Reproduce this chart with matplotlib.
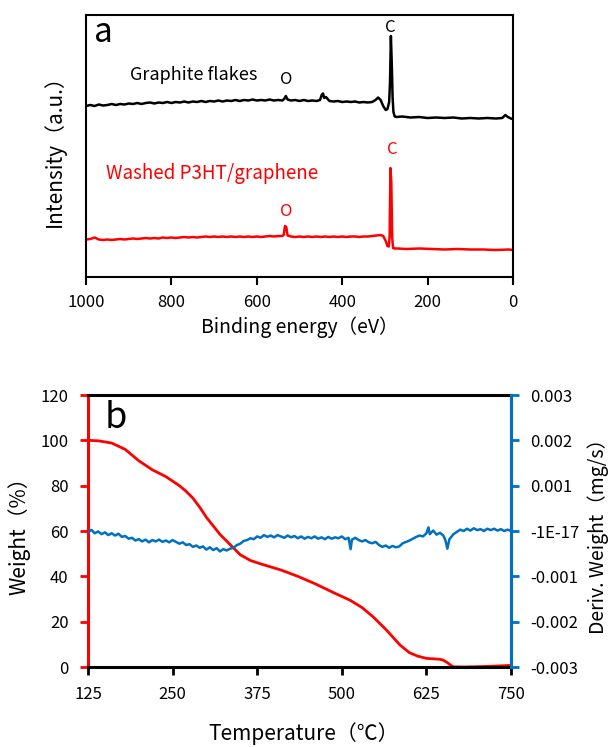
import numpy as np
import matplotlib
matplotlib.use("Agg")
import matplotlib.pyplot as plt
from matplotlib.ticker import FixedLocator, FixedFormatter

plt.rcParams['font.family'] = ['Noto Sans CJK JP', 'DejaVu Sans']

# --- panel a: XPS survey spectra (arbitrary intensity units) ---
be_black = [1000, 990, 980, 970, 960, 950, 940, 930, 920, 910, 900, 890, 880, 870, 860,
            850, 840, 830, 820, 810, 800, 790, 780, 770, 760, 750, 740, 730, 720, 710,
            700, 690, 680, 670, 660, 650, 640, 630, 620, 610, 600, 590, 580, 570, 560,
            550, 540, 536, 532, 528, 520, 510, 500, 490, 480, 470, 460, 452, 448, 445,
            442, 438, 430, 420, 410, 400, 390, 380, 370, 360, 350, 340, 330, 322, 316,
            310, 304, 298, 294, 290, 288, 286, 284, 282, 280, 277, 272, 260, 240, 220,
            200, 180, 160, 140, 120, 100, 80, 60, 40, 25, 18, 12, 5, 0]
int_black = [171, 172, 171, 172.5, 171.5, 172, 173, 172, 173, 172.5, 173.5, 173, 174, 173, 174,
             174.5, 173.5, 174.5, 174, 175, 174, 175, 174.5, 175.5, 174.5, 175.5, 175, 176, 175, 176,
             175.5, 176.5, 175.5, 176.5, 176, 177, 176, 177, 176.5, 177.5, 176.5, 177, 176.5, 177.5, 176.5,
             177, 176.5, 178, 181, 177.5, 176.5, 177, 176, 177, 176, 176.5, 176, 177, 182, 183.5,
             179, 180, 176, 175.5, 176, 175, 175.5, 175, 175.5, 174.5, 175, 174.5, 175, 177, 179.5,
             177, 171, 167, 168, 175, 195, 241, 215, 180, 165, 160.5, 160, 160.5, 159.5, 160,
             159, 159.5, 159, 159.5, 158.5, 159, 158.5, 159, 158.5, 159, 162, 160, 158.5, 158]

be_red = [1000, 990, 980, 975, 970, 960, 950, 940, 930, 920, 910, 900, 890, 880, 870,
          860, 850, 840, 830, 820, 810, 800, 790, 780, 770, 760, 750, 740, 730, 720,
          710, 700, 690, 680, 670, 660, 650, 640, 630, 620, 610, 600, 590, 580, 570,
          560, 550, 540, 537, 534, 531, 528, 520, 510, 500, 490, 480, 470, 460, 450,
          440, 430, 420, 410, 400, 390, 380, 370, 360, 350, 340, 330, 320, 310, 304,
          298, 294, 291, 289, 287, 285, 283, 281, 278, 270, 250, 220, 190, 160, 130,
          100, 70, 40, 10, 0]
int_red = [37.5, 38, 39.5, 38.5, 37.5, 37, 37.5, 37, 37.5, 38, 37.5, 38, 38.5, 38, 38.5,
           39, 38.5, 39, 38.5, 39.5, 39, 39.5, 39, 39.5, 40, 39.5, 40, 39.5, 40, 40.5,
           40, 40.5, 40, 40.5, 40, 40.5, 40, 40.5, 40, 40.5, 40, 40.5, 40, 40.5, 41,
           40.5, 41, 41, 42, 51, 50, 41.5, 40.5, 40, 40.5, 40, 40.5, 40, 40.5, 40,
           40.5, 40, 40.5, 40, 40.5, 40, 40.5, 40.5, 40, 40.5, 40.5, 41, 41.5, 42, 41,
           36, 31, 30.5, 40, 109, 95, 40, 29, 28.5, 28.5, 28, 28.5, 28, 27.5, 28,
           27.5, 27.5, 27, 27.5, 27]

# --- panel b: TGA ---
tga_temp = [125, 140, 160, 180, 200, 220, 240, 260, 270, 280, 290, 300, 320, 340, 350,
            365, 380, 410, 435, 460, 490, 512, 530, 546, 566, 586, 600, 612, 625, 636,
            645, 650, 656, 664, 680, 710, 750]
tga_weight = [100, 99.8, 98.8, 96, 91, 87, 84, 80, 77.5, 74.5, 70.5, 66, 58.5, 52.5, 49.5,
              47, 45.5, 42.8, 40, 36.8, 32.5, 29.5, 26.2, 22.2, 16.3, 9.7, 6.3, 4.8, 3.8, 3.6,
              3.4, 3.0, 1.9, 0.1, 0, 0.2, 0.7]

dtg_temp = [125, 130, 135, 140, 145, 150, 155, 160, 165, 170, 175, 180, 185, 190, 195,
            200, 205, 210, 215, 220, 225, 230, 235, 240, 245, 250, 255, 260, 265, 270,
            275, 280, 285, 290, 295, 300, 305, 310, 315, 320, 325, 330, 335, 340, 345,
            350, 355, 360, 365, 370, 375, 380, 385, 390, 395, 400, 405, 410, 415, 420,
            425, 430, 435, 440, 445, 450, 455, 460, 465, 470, 475, 480, 485, 490, 495,
            500, 505, 510, 513, 515, 520, 525, 530, 535, 540, 545, 550, 555, 560, 565,
            570, 575, 580, 585, 590, 595, 600, 605, 610, 615, 620, 625, 628, 630, 635,
            640, 645, 650, 653, 656, 659, 665, 670, 675, 680, 685, 690, 695, 700, 705,
            710, 715, 720, 725, 730, 735, 740, 745, 750]
# derivative weight in units of 1e-5 mg/s
dtg_e5 = [-2.5, 2.5, -5, -1, -7, -3, -9, -5, -10, -6, -13, -11, -17, -15, -21,
          -18, -23, -19, -25, -20, -23, -19, -24, -21, -25, -20, -24, -28, -25, -31,
          -29, -35, -32, -37, -34, -41, -36, -42, -38, -45, -40, -43, -39, -37, -31,
          -28, -22, -20, -16, -18, -12, -15, -9, -13, -10, -14, -9, -12, -15, -10,
          -14, -11, -16, -12, -17, -13, -16, -12, -17, -14, -18, -13, -17, -14, -16,
          -12, -18, -15, -40, -19, -15, -20, -23, -20, -25, -27, -24, -31, -35, -32,
          -37, -33, -36, -34, -27, -24, -21, -17, -13, -10, -12, -5, 8, -7, 1,
          -8, -4, -10, -20, -39, -18, -7, -2, 3, 0, 5, 1, 6, 2, 4,
          0, 5, 2, 5, 1, 4, 0, 3, 0]

temp_ticks = [125, 250, 375, 500, 625, 750]
weight_ticks = [0, 20, 40, 60, 80, 100, 120]
dtg_ticks = [-0.003, -0.002, -0.001, 0.0, 0.001, 0.002, 0.003]
dtg_labels = ['-0.003', '-0.002', '-0.001', '-1E-17', '0.001', '0.002', '0.003']
be_ticks = [1000, 800, 600, 400, 200, 0]

red = '#ff0000'
blue = '#0070c0'

fig = plt.figure(figsize=(6.16, 7.47), dpi=100)

# ---------------- panel a ----------------
ax = fig.add_axes([86 / 616, 1 - 277 / 747, 427 / 616, 262 / 747])
ax.plot(be_black, int_black, color='black', lw=1.8)
ax.plot(be_red, int_red, color=red, lw=1.8)
ax.set_xlim(1000, 0)
ax.set_ylim(0, 262)
ax.set_xticks(be_ticks)
ax.set_yticks([])
for s in ax.spines.values():
    s.set_linewidth(1.5)
ax.tick_params(axis='x', direction='out', length=6, width=1.5, labelsize=12, pad=6)
ax.set_xlabel('Binding energy（eV）', fontsize=14)
ax.xaxis.set_label_coords(0.5, -0.19)
ax.xaxis.label.set_va('center')
ax.set_ylabel('Intensity（a.u.）', fontsize=15)
ax.yaxis.set_label_coords(-0.075, 0.5)
ax.yaxis.label.set_va('center')

ax.text(0.04, 0.935, 'a', transform=ax.transAxes, fontsize=24, ha='center', va='center')
ax.text(897, 202, 'Graphite flakes', fontsize=13, ha='left', va='center', color='black')
ax.text(532, 198, 'O', fontsize=12, ha='center', va='center', color='black')
ax.text(288, 250, 'C', fontsize=12, ha='center', va='center', color='black')
ax.text(953, 103, 'Washed P3HT/graphene', fontsize=13.5, ha='left', va='center', color=red)
ax.text(532, 65, 'O', fontsize=12, ha='center', va='center', color=red)
ax.text(283, 128, 'C', fontsize=12, ha='center', va='center', color=red)

# ---------------- panel b ----------------
bx = fig.add_axes([88 / 616, 1 - 667 / 747, 423 / 616, 272 / 747])
bx.plot(tga_temp, tga_weight, color=red, lw=2)
bx.set_xlim(125, 750)
bx.set_ylim(0, 120)
bx.set_xticks(temp_ticks)
bx.set_yticks(weight_ticks)
bx.spines['left'].set_color(red)
for s in bx.spines.values():
    s.set_linewidth(2.2)
bx.tick_params(axis='x', direction='out', length=6, width=2, labelsize=12, pad=8)
bx.tick_params(axis='y', direction='out', length=6, width=2, colors=red, labelcolor='black',
               labelsize=12, pad=8)
bx.set_xlabel('Temperature（℃）', fontsize=15)
bx.xaxis.set_label_coords(0.51, -0.246)
bx.xaxis.label.set_va('center')
bx.set_ylabel('Weight（%）', fontsize=15)
bx.yaxis.set_label_coords(-0.163, 0.5)
bx.yaxis.label.set_va('center')
bx.text(0.066, 0.915, 'b', transform=bx.transAxes, fontsize=26, ha='center', va='center')

bx2 = bx.twinx()
bx2.plot(dtg_temp, np.array(dtg_e5) * 1e-5, color=blue, lw=1.8)
bx2.set_ylim(-0.003, 0.003)
bx2.yaxis.set_major_locator(FixedLocator(dtg_ticks))
bx2.yaxis.set_major_formatter(FixedFormatter(dtg_labels))
for k, s in bx2.spines.items():
    s.set_linewidth(2.2)
    s.set_visible(k == 'right')
bx2.spines['right'].set_color(blue)
bx2.tick_params(axis='y', direction='out', length=6, width=2, colors=blue, labelcolor='black',
                labelsize=12, pad=8)
bx2.set_ylabel('Deriv. Weight（mg/s）', fontsize=14)
bx2.yaxis.set_label_coords(1.205, 0.5)
bx2.yaxis.label.set_va('center')
bx2.yaxis.label.set_rotation(90)

fig.savefig('out.png', dpi=100)
